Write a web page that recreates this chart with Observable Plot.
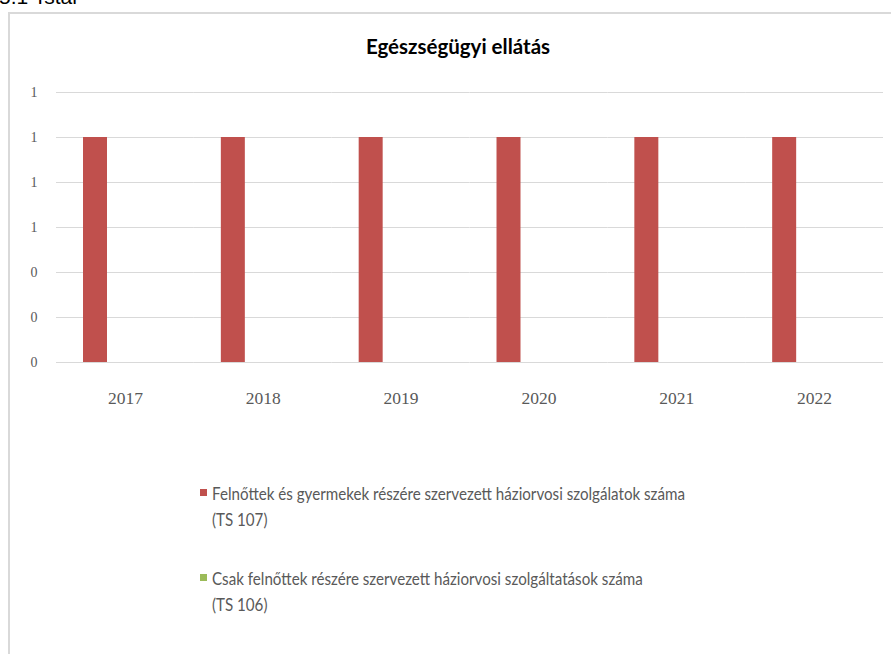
<!DOCTYPE html>
<html>
<head>
<meta charset="utf-8">
<script src="https://cdn.jsdelivr.net/npm/d3@7"></script>
<script src="https://cdn.jsdelivr.net/npm/@observablehq/plot@0.6"></script>
<style>
html, body { margin: 0; padding: 0; background: #fff; overflow: hidden; }
#page { position: relative; width: 891px; height: 654px; overflow: hidden; background: #fff; }
#frame { position: absolute; left: 8px; top: 12px; width: 920px; height: 720px; border: 2px solid #d9d9d9; box-sizing: border-box; }
#doc { position: absolute; left: -1px; top: -13.5px; font-family: "Liberation Sans"; font-size: 21px; line-height: 20px; color: #000; white-space: nowrap; }
#title { position: absolute; left: 0; width: 916px; top: 36px; text-align: center; font-family: Lato; font-weight: bold; font-size: 20.5px; line-height: 20px; color: #000; white-space: nowrap; }
#chart { position: absolute; left: 0; top: 0; }
.sw { position: absolute; left: 200px; width: 7px; height: 7px; }
.lt { position: absolute; left: 212px; font-family: Lato; font-size: 17.6px; line-height: 26px; color: #595959; white-space: nowrap; transform-origin: 0 0; }
</style>
</head>
<body>
<div id="page">
  <div id="doc"></div>
  <div id="frame"></div>
  <div id="title"></div>
  <div id="chart"></div>
</div>
<script>
const docHeading = "5.1 Tstar";
const chartTitle = "Egészségügyi ellátás";
const years = ["2017", "2018", "2019", "2020", "2021", "2022"];
const seriesNames = [
  "Felnőttek és gyermekek részére szervezett háziorvosi szolgálatok száma (TS 107)",
  "Csak felnőttek részére szervezett háziorvosi szolgáltatások száma (TS 106)"
];
const seriesColors = ["#C0504D", "#9BBB59"];
const ts107 = [1, 1, 1, 1, 1, 1];
const ts106 = [0, 0, 0, 0, 0, 0];
const yTicks = [0, 0.2, 0.4, 0.6, 0.8, 1.0, 1.2];

const seriesValues = [ts107, ts106];
const data = years.flatMap((yr, i) => seriesNames.map((s, k) => ({year: yr, series: s, value: seriesValues[k][i]})));

document.getElementById("doc").textContent = docHeading;
document.getElementById("title").textContent = chartTitle;

const fmt = d3.format(".0f");

const chart = Plot.plot({
  width: 891,
  height: 440,
  marginTop: 92,
  marginBottom: 78,
  marginLeft: 56,
  marginRight: 8,
  style: {background: "transparent", fontFamily: "Liberation Serif", fontSize: "14px", color: "#595959", overflow: "visible"},
  facet: {data, x: "year"},
  fx: {domain: years, padding: 0, round: false, axis: "bottom", tickSize: 0, tickPadding: 29, label: null},
  x: {domain: seriesNames, paddingInner: 0.599, paddingOuter: 0.4515, round: false, axis: null},
  y: {domain: [0, 1.2], ticks: yTicks, tickFormat: d => fmt(d), tickSize: 0, tickPadding: 19, label: null},
  color: {domain: seriesNames, range: seriesColors},
  marks: [
    Plot.ruleY(yTicks, {stroke: "#d9d9d9", strokeWidth: 1}),
    Plot.barY(data, {x: "series", y: "value", fill: "series"})
  ]
});
document.getElementById("chart").appendChild(chart);

d3.select(chart).selectAll('[aria-label^="fx-axis"] text').attr("font-size", "17.5px").style("font-size", "17.5px");

// legend
const page = document.getElementById("page");
const legendTops = [481.2, 566.2];
const swatchTops = [489, 574];
const targetWidth = 473;
let scale = null;
seriesNames.forEach((name, k) => {
  const sw = document.createElement("div");
  sw.className = "sw";
  sw.style.top = swatchTops[k] + "px";
  sw.style.background = seriesColors[k];
  page.appendChild(sw);
  const idx = name.lastIndexOf(" (");
  const t = document.createElement("div");
  t.className = "lt";
  t.style.top = legendTops[k] + "px";
  const l1 = document.createElement("div"); l1.textContent = name.slice(0, idx);
  const l2 = document.createElement("div"); l2.textContent = name.slice(idx + 1);
  t.appendChild(l1); t.appendChild(l2);
  page.appendChild(t);
  if (k === 0) {
    const s = document.createElement("span"); s.textContent = name.slice(0, idx);
    s.style.cssText = "font-family:Lato;font-size:17.6px;white-space:nowrap;position:absolute;visibility:hidden";
    page.appendChild(s);
    scale = targetWidth / s.getBoundingClientRect().width;
    s.remove();
  }
});
document.querySelectorAll(".lt").forEach(el => el.style.transform = `scaleX(${scale})`);
</script>
</body>
</html>
